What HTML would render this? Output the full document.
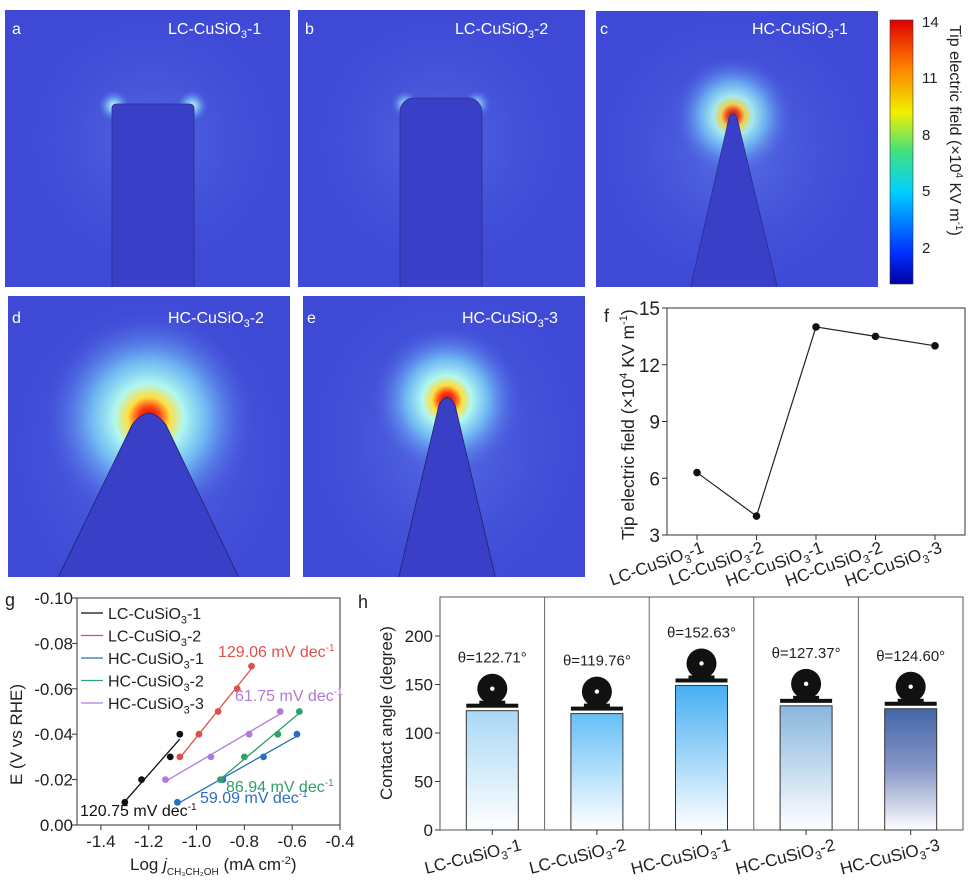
<!DOCTYPE html>
<html><head><meta charset="utf-8">
<style>
html,body{margin:0;padding:0;background:#fff;}
body{width:979px;height:879px;overflow:hidden;font-family:"Liberation Sans",sans-serif;}
svg text{font-family:"Liberation Sans",sans-serif;}
</style></head>
<body>
<svg id="fig" width="979" height="879" viewBox="0 0 979 879" xmlns="http://www.w3.org/2000/svg">
<defs>
  <radialGradient id="glowBig">
    <stop offset="0" stop-color="#a01010"/>
    <stop offset="0.1" stop-color="#ff3a10"/>
    <stop offset="0.2" stop-color="#ffe040"/>
    <stop offset="0.33" stop-color="#b0f8f0"/>
    <stop offset="0.55" stop-color="#7ad0f8" stop-opacity="0.8"/>
    <stop offset="0.8" stop-color="#6090f0" stop-opacity="0.35"/>
    <stop offset="1" stop-color="#4a5ae0" stop-opacity="0"/>
  </radialGradient>
  <radialGradient id="glowSmall">
    <stop offset="0" stop-color="#e8ffff"/>
    <stop offset="0.4" stop-color="#8ad8f8" stop-opacity="0.7"/>
    <stop offset="1" stop-color="#5070e8" stop-opacity="0"/>
  </radialGradient>
  <radialGradient id="halo">
    <stop offset="0" stop-color="#6a8cf0" stop-opacity="0.8"/>
    <stop offset="1" stop-color="#4a55dc" stop-opacity="0"/>
  </radialGradient>
  <linearGradient id="cbar" x1="0" y1="1" x2="0" y2="0">
    <stop offset="0" stop-color="#0000a0"/>
    <stop offset="0.12" stop-color="#0030ff"/>
    <stop offset="0.35" stop-color="#00d0ff"/>
    <stop offset="0.5" stop-color="#40e080"/>
    <stop offset="0.65" stop-color="#f0f000"/>
    <stop offset="0.82" stop-color="#ff8000"/>
    <stop offset="1" stop-color="#e00000"/>
  </linearGradient>
  <linearGradient id="bg0" x1="0" y1="0" x2="0" y2="1"><stop offset="0" stop-color="#a9d8f6"/><stop offset="1" stop-color="#ffffff"/></linearGradient>
  <linearGradient id="bg1" x1="0" y1="0" x2="0" y2="1"><stop offset="0" stop-color="#66bff6"/><stop offset="1" stop-color="#ffffff"/></linearGradient>
  <linearGradient id="bg2" x1="0" y1="0" x2="0" y2="1"><stop offset="0" stop-color="#46aef2"/><stop offset="1" stop-color="#ffffff"/></linearGradient>
  <linearGradient id="bg3" x1="0" y1="0" x2="0" y2="1"><stop offset="0" stop-color="#88b6de"/><stop offset="1" stop-color="#ffffff"/></linearGradient>
  <linearGradient id="bg4" x1="0" y1="0" x2="0" y2="1"><stop offset="0" stop-color="#4466a8"/><stop offset="0.5" stop-color="#8898c8"/><stop offset="1" stop-color="#ffffff"/></linearGradient>
  <clipPath id="cpa"><rect x="5" y="10" width="285" height="277"/></clipPath>
  <clipPath id="cpb"><rect x="298" y="10" width="287" height="277"/></clipPath>
  <clipPath id="cpc"><rect x="596" y="11" width="282" height="276"/></clipPath>
  <clipPath id="cpd"><rect x="8" y="296" width="282" height="281"/></clipPath>
  <clipPath id="cpe"><rect x="303" y="296" width="282" height="281"/></clipPath>
</defs>

<!-- Panel a -->
<g clip-path="url(#cpa)">
  <rect x="5" y="10" width="285" height="277" fill="#3e4ad6"/>
  <ellipse cx="153" cy="140" rx="140" ry="140" fill="url(#halo)" opacity="0.6"/>
  <circle cx="114" cy="106" r="16" fill="url(#glowSmall)"/>
  <circle cx="192" cy="106" r="16" fill="url(#glowSmall)"/>
  <rect x="112" y="104" width="82" height="190" rx="4" fill="#3a3fc8" stroke="#2a2e90" stroke-width="0.8"/>
</g>
<text x="12" y="34" fill="#fff" font-size="16">a</text>
<text x="168" y="34" fill="#fff" font-size="16">LC-CuSiO<tspan font-size="11" dy="4">3</tspan><tspan dy="-4">-1</tspan></text>

<!-- Panel b -->
<g clip-path="url(#cpb)">
  <rect x="298" y="10" width="287" height="277" fill="#3e4ad6"/>
  <ellipse cx="441" cy="140" rx="140" ry="140" fill="url(#halo)" opacity="0.6"/>
  <circle cx="405" cy="104" r="14" fill="url(#glowSmall)" opacity="0.8"/>
  <circle cx="477" cy="104" r="14" fill="url(#glowSmall)" opacity="0.8"/>
  <rect x="400" y="98" width="82" height="200" rx="14" fill="#3a3fc8" stroke="#2a2e90" stroke-width="0.8"/>
</g>
<text x="305" y="34" fill="#fff" font-size="16">b</text>
<text x="455" y="34" fill="#fff" font-size="16">LC-CuSiO<tspan font-size="11" dy="4">3</tspan><tspan dy="-4">-2</tspan></text>

<!-- Panel c -->
<g clip-path="url(#cpc)">
  <rect x="596" y="11" width="282" height="276" fill="#3e4ad6"/>
  <ellipse cx="735" cy="150" rx="150" ry="150" fill="url(#halo)" opacity="0.7"/>
  <circle cx="733" cy="116" r="60" fill="url(#glowBig)" opacity="0.9"/>
  <path d="M690 290 L729 118 Q733 110 737 118 L778 290 Z" fill="#3a3fc8" stroke="#2a2e90" stroke-width="0.8"/>
</g>
<text x="600" y="34" fill="#fff" font-size="16">c</text>
<text x="752" y="34" fill="#fff" font-size="16">HC-CuSiO<tspan font-size="11" dy="4">3</tspan><tspan dy="-4">-1</tspan></text>

<!-- Panel d -->
<g clip-path="url(#cpd)">
  <rect x="8" y="296" width="282" height="281" fill="#3e4ad6"/>
  <ellipse cx="149" cy="450" rx="150" ry="170" fill="url(#halo)" opacity="0.8"/>
  <circle cx="149" cy="418" r="105" fill="url(#glowBig)"/>
  <path d="M57 580 L132 425 Q149 402 166 425 L240 580 Z" fill="#3a3fc8" stroke="#1e2270" stroke-width="0.8"/>
</g>
<text x="12" y="323" fill="#fff" font-size="16">d</text>
<text x="168" y="323" fill="#fff" font-size="16">HC-CuSiO<tspan font-size="11" dy="4">3</tspan><tspan dy="-4">-2</tspan></text>

<!-- Panel e -->
<g clip-path="url(#cpe)">
  <rect x="303" y="296" width="282" height="281" fill="#3e4ad6"/>
  <ellipse cx="446" cy="440" rx="150" ry="170" fill="url(#halo)" opacity="0.7"/>
  <circle cx="447" cy="400" r="75" fill="url(#glowBig)"/>
  <path d="M398 580 L439 405 Q447 390 455 405 L496 580 Z" fill="#3a3fc8" stroke="#1e2270" stroke-width="0.8"/>
</g>
<text x="307" y="323" fill="#fff" font-size="16">e</text>
<text x="462" y="323" fill="#fff" font-size="16">HC-CuSiO<tspan font-size="11" dy="4">3</tspan><tspan dy="-4">-3</tspan></text>

<!-- Colorbar -->
<g>
  <rect x="890" y="20" width="23" height="264" fill="url(#cbar)" stroke="#333" stroke-width="0.6"/>
  <g font-size="15" fill="#222">
    <text x="922" y="27">14</text>
    <text x="922" y="83">11</text>
    <text x="922" y="140">8</text>
    <text x="922" y="196">5</text>
    <text x="922" y="253">2</text>
  </g>
  <text transform="translate(950,25) rotate(90)" font-size="16" fill="#222">Tip electric field (×10<tspan font-size="10" dy="-6">4</tspan><tspan dy="6"> KV m</tspan><tspan font-size="10" dy="-6">-1</tspan><tspan dy="6">)</tspan></text>
</g>

<g id="panelF"></g>
<g id="panelG"></g>
<g id="panelH"></g>
</svg>

<script>
// ---------- Panel f data ----------
const fCategories = ["LC-CuSiO3-1","LC-CuSiO3-2","HC-CuSiO3-1","HC-CuSiO3-2","HC-CuSiO3-3"];
const fValues = [6.3, 4.0, 14.0, 13.5, 13.0];
const fTicks = [3, 6, 9, 12, 15];

// ---------- Panel g data ----------
const gSeriesNames = ["LC-CuSiO3-1","LC-CuSiO3-2","HC-CuSiO3-1","HC-CuSiO3-2","HC-CuSiO3-3"];
const gColors = ["#111111","#e0504a","#2a6ec0","#2ea06a","#b07ad8"];
const gX0 = [-1.30,-1.23,-1.11,-1.07];
const gY0 = [-0.01,-0.02,-0.03,-0.04];
const gX1 = [-1.07,-0.99,-0.91,-0.83,-0.77];
const gY1 = [-0.03,-0.04,-0.05,-0.06,-0.07];
const gX2 = [-1.08,-0.89,-0.72,-0.58];
const gY2 = [-0.01,-0.02,-0.03,-0.04];
const gX3 = [-0.90,-0.80,-0.66,-0.57];
const gY3 = [-0.02,-0.03,-0.04,-0.05];
const gX4 = [-1.13,-0.94,-0.78,-0.65];
const gY4 = [-0.02,-0.03,-0.04,-0.05];
const gXTicks = [-1.4,-1.2,-1.0,-0.8,-0.6,-0.4];
const gYTicks = [0.00,-0.02,-0.04,-0.06,-0.08,-0.10];
const gSlopeLabels = ["120.75","129.06","59.09","86.94","61.75"];

// ---------- Panel h data ----------
const hCategories = ["LC-CuSiO3-1","LC-CuSiO3-2","HC-CuSiO3-1","HC-CuSiO3-2","HC-CuSiO3-3"];
const hValues = [123, 120, 149, 128, 125];
const hAngleLabels = ["122.71","119.76","152.63","127.37","124.60"];
const hTicks = [0, 50, 100, 150, 200];

const NS = "http://www.w3.org/2000/svg";
function mk(parent, tag, attrs, text){
  const e = document.createElementNS(NS, tag);
  for (const k in attrs) e.setAttribute(k, attrs[k]);
  if (text !== undefined) e.textContent = text;
  parent.appendChild(e);
  return e;
}
function subLabel(parent, x, y, name, size, attrs){
  const m = name.match(/^(.*)3(-\d)$/);
  const t = mk(parent, "text", Object.assign({x:x, y:y, "font-size":size, fill:"#222"}, attrs||{}));
  t.appendChild(document.createTextNode(m[1]));
  const s = document.createElementNS(NS,"tspan"); s.setAttribute("font-size", size*0.68); s.setAttribute("dy", size*0.28); s.textContent="3"; t.appendChild(s);
  const s2 = document.createElementNS(NS,"tspan"); s2.setAttribute("dy", -size*0.28); s2.textContent=m[2]; t.appendChild(s2);
  return t;
}

// ===== Panel f =====
(function(){
  const g = document.getElementById("panelF");
  const L=667, R=965, T=308, B=535;
  const y = v => B - (v-3)/(15-3)*(B-T);
  const x = i => 697 + i*(935-697)/4;
  const box = mk(g,"rect",{x:L,y:T,width:R-L,height:B-T,fill:"none",stroke:"#333","stroke-width":1});
  
  
  fTicks.forEach(t=>{
    mk(g,"line",{x1:L,x2:L-5,y1:y(t),y2:y(t),stroke:"#333"});
    const tl = mk(g,"text",{x:L-7,y:y(t)+7,"font-size":19,"text-anchor":"end",fill:"#222"},String(t));
    
    
  });
  fCategories.forEach((c,i)=>{
    mk(g,"line",{x1:x(i),x2:x(i),y1:B,y2:B+5,stroke:"#333"});
    const lab = subLabel(g, 0, 0, c, 17, {"text-anchor":"end", transform:`translate(${x(i)+8},${B+17}) rotate(-20)`});
    
    
  });
  const pts = fValues.map((v,i)=>x(i)+","+y(v)).join(" ");
  const line = mk(g,"polyline",{points:pts,fill:"none",stroke:"#222","stroke-width":1.2});
  
  
  fValues.forEach((v,i)=>{
    const c = mk(g,"circle",{cx:x(i),cy:y(v),r:3.8,fill:"#111"});
    
    
  });
  mk(g,"text",{x:604,y:322,"font-size":18,fill:"#222"},"f");
  const yt = mk(g,"text",{transform:"translate(634,540) rotate(-90)","font-size":17.5,fill:"#222","text-anchor":"start"});
  yt.innerHTML = 'Tip electric field (×10<tspan font-size="11" dy="-7">4</tspan><tspan dy="7"> KV m</tspan><tspan font-size="11" dy="-7">-1</tspan><tspan dy="7">)</tspan>';
  
  
})();

// ===== Panel g =====
(function(){
  const g = document.getElementById("panelG");
  const L=77, R=340, T=598, B=825;
  const x = v => L + (v-(-1.5))/((-0.4)-(-1.5))*(R-L);
  const y = v => B - (v/(-0.10))*(B-T);
  const box = mk(g,"rect",{x:L,y:T,width:R-L,height:B-T,fill:"none",stroke:"#333","stroke-width":1});
  
  
  gXTicks.forEach(t=>{
    mk(g,"line",{x1:x(t),x2:x(t),y1:B,y2:B+5,stroke:"#333"});
    const tl = mk(g,"text",{x:x(t),y:B+22,"font-size":17,"text-anchor":"middle",fill:"#222"},t.toFixed(1));
    
    
  });
  gYTicks.forEach(t=>{
    mk(g,"line",{x1:L,x2:L-5,y1:y(t),y2:y(t),stroke:"#333"});
    const tl = mk(g,"text",{x:L-4,y:y(t)+6,"font-size":17,"text-anchor":"end",fill:"#222"},t.toFixed(2));
    
    
  });
  mk(g,"text",{x:5,y:606,"font-size":18,fill:"#222"},"g");
  const yt = mk(g,"text",{transform:"translate(22,785) rotate(-90)","font-size":17,fill:"#222"},"E (V vs RHE)");
  
  
  const xt = mk(g,"text",{x:130,y:870,"font-size":17,fill:"#222"});
  xt.innerHTML = 'Log <tspan font-style="italic">j</tspan><tspan font-size="10" dy="5">CH₃CH₂OH</tspan><tspan dy="-5"> (mA cm</tspan><tspan font-size="11" dy="-6">-2</tspan><tspan dy="6">)</tspan>';
  
  

  const XS=[gX0,gX1,gX2,gX3,gX4], YS=[gY0,gY1,gY2,gY3,gY4];
  XS.forEach((xs,si)=>{
    const ys = YS[si], n = xs.length;
    const mx = xs.reduce((a,b)=>a+b,0)/n, my = ys.reduce((a,b)=>a+b,0)/n;
    let sxy=0,sxx=0; xs.forEach((v,i)=>{sxy+=(v-mx)*(ys[i]-my); sxx+=(v-mx)*(v-mx);});
    const b = sxy/sxx, a = my - b*mx;
    const x1 = Math.min(...xs), x2 = Math.max(...xs);
    const ln = mk(g,"line",{x1:x(x1),y1:y(a+b*x1),x2:x(x2),y2:y(a+b*x2),stroke:gColors[si],"stroke-width":1.3});
    
    
    xs.forEach((v,i)=>{
      const c = mk(g,"circle",{cx:x(v),cy:y(ys[i]),r:3.4,fill:gColors[si]});
      
      
    });
    const ly = 613 + si*22.5;
    const lg = mk(g,"g",{});
    
    
    mk(lg,"line",{x1:81,x2:103,y1:ly,y2:ly,stroke:gColors[si],"stroke-width":1.3});
    subLabel(lg, 108, ly+6, gSeriesNames[si], 16);
  });
  const ann = [[80,816,0],[218,657,1],[200,803,2],[226,792,3],[235,701,4]];
  ann.forEach(([ax,ay,si])=>{
    const t = mk(g,"text",{x:ax,y:ay,"font-size":16,fill:si===0?"#111":gColors[si]});
    t.innerHTML = gSlopeLabels[si]+' mV dec<tspan font-size="10" dy="-6">-1</tspan>';
    
    
  });
})();

// ===== Panel h =====
(function(){
  const g = document.getElementById("panelH");
  const L=440, R=963, T=597, B=830;
  const y = v => B - v/200*(B-636);
  const cw = (R-L)/5;
  const cx = i => L + cw*(i+0.5);
  const box = mk(g,"rect",{x:L,y:T,width:R-L,height:B-T,fill:"none",stroke:"#555","stroke-width":1});
  
  
  for(let i=1;i<5;i++) mk(g,"line",{x1:L+cw*i,x2:L+cw*i,y1:T,y2:B,stroke:"#666","stroke-width":1});
  hTicks.forEach(t=>{
    mk(g,"line",{x1:L,x2:L-5,y1:y(t),y2:y(t),stroke:"#333"});
    const tl = mk(g,"text",{x:L-7,y:y(t)+6,"font-size":17,"text-anchor":"end",fill:"#222"},String(t));
    
    
  });
  mk(g,"text",{x:358,y:608,"font-size":18,fill:"#222"},"h");
  const yt = mk(g,"text",{transform:"translate(392,800) rotate(-90)","font-size":17,fill:"#222"},"Contact angle (degree)");
  
  
  hValues.forEach((v,i)=>{
    const bw = 52;
    const r = mk(g,"rect",{x:cx(i)-bw/2,y:y(v),width:bw,height:B-y(v),fill:`url(#bg${i})`,stroke:"#333","stroke-width":1});
    
    
    mk(g,"line",{x1:cx(i),x2:cx(i),y1:B,y2:B+5,stroke:"#333"});
    const top = y(v);
    const dg = mk(g,"g",{});
    
    
    mk(dg,"rect",{x:cx(i)-26,y:top-7,width:52,height:4,fill:"#111"});
    mk(dg,"circle",{cx:cx(i),cy:top-22,r:15,fill:"#111"});
    mk(dg,"rect",{x:cx(i)-13,y:top-10,width:26,height:4,fill:"#111"});
    mk(dg,"circle",{cx:cx(i),cy:top-22,r:2.2,fill:"#fff"});
    const al = mk(g,"text",{x:cx(i),y:top-48,"font-size":15,"text-anchor":"middle",fill:"#222"},"θ="+hAngleLabels[i]+"°");
    
    
    const lab = subLabel(g, 0, 0, hCategories[i], 17, {"text-anchor":"end", transform:`translate(${cx(i)+30},${B+20}) rotate(-14)`});
    
    
  });
})();
</script>
</body></html>
